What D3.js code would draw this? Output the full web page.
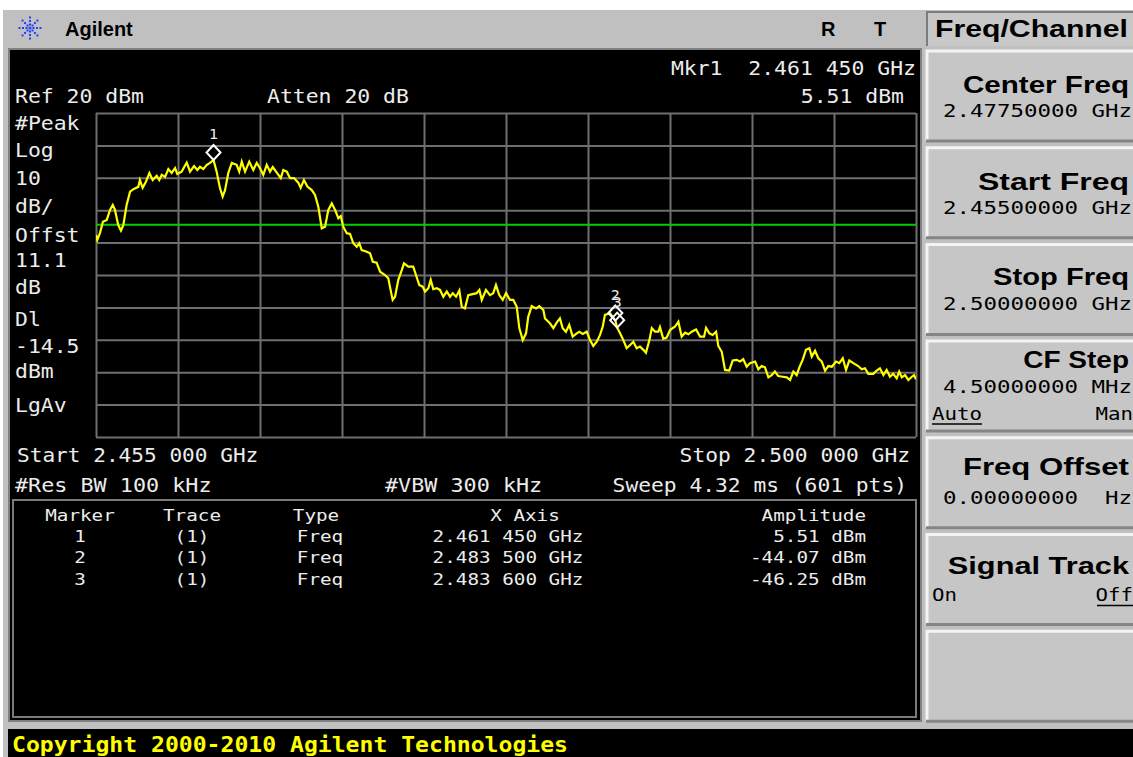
<!DOCTYPE html>
<html>
<head>
<meta charset="utf-8">
<script src="https://cdn.jsdelivr.net/npm/d3@7"></script>
<style>
  html, body { margin: 0; padding: 0; background: #ffffff; overflow: hidden; }
  svg { display: block; }
</style>
</head>
<body>
<svg id="screen" width="1133" height="757"></svg>
<script>
// ---- Trace 1 (peak detector), frequency in MHz and amplitude in dBm ----
const freqMHz = [2455.00,2455.07,2455.22,2455.38,2455.59,2455.77,2455.92,2456.04,2456.22,2456.37,2456.50,2456.68,2456.87,2457.05,2457.32,2457.41,2457.56,2457.74,2457.93,2458.11,2458.33,2458.47,2458.61,2458.79,2458.97,2459.15,2459.34,2459.46,2459.70,2459.98,2460.16,2460.38,2460.56,2460.71,2460.89,2461.08,2461.26,2461.45,2461.62,2461.80,2461.95,2462.08,2462.26,2462.45,2462.72,2462.86,2463.00,2463.18,2463.41,2463.63,2463.82,2464.00,2464.18,2464.37,2464.55,2464.70,2464.92,2465.14,2465.28,2465.47,2465.65,2465.87,2466.10,2466.23,2466.41,2466.60,2466.84,2467.02,2467.20,2467.39,2467.57,2467.75,2467.94,2468.12,2468.30,2468.43,2468.57,2468.76,2468.94,2469.12,2469.31,2469.45,2469.58,2469.86,2470.04,2470.19,2470.40,2470.59,2470.86,2471.04,2471.13,2471.28,2471.41,2471.59,2471.78,2471.90,2472.14,2472.41,2472.56,2472.74,2472.93,2473.06,2473.24,2473.37,2473.51,2473.70,2473.88,2474.06,2474.25,2474.43,2474.58,2474.76,2474.94,2475.07,2475.25,2475.43,2475.67,2475.89,2476.04,2476.17,2476.40,2476.62,2476.80,2476.95,2477.13,2477.32,2477.50,2477.72,2477.90,2478.09,2478.23,2478.42,2478.60,2478.72,2478.91,2479.15,2479.33,2479.55,2479.64,2479.91,2480.10,2480.28,2480.46,2480.61,2480.79,2480.97,2481.16,2481.38,2481.52,2481.71,2481.93,2482.11,2482.29,2482.48,2482.66,2482.81,2482.93,2483.21,2483.50,2483.60,2483.76,2483.94,2484.12,2484.31,2484.49,2484.67,2484.85,2485.04,2485.18,2485.37,2485.50,2485.68,2485.86,2485.95,2486.13,2486.32,2486.50,2486.78,2486.96,2487.14,2487.33,2487.51,2487.69,2487.93,2488.15,2488.37,2488.48,2488.66,2488.84,2489.03,2489.15,2489.34,2489.52,2489.75,2489.94,2490.16,2490.34,2490.52,2490.71,2490.89,2491.17,2491.35,2491.53,2491.71,2491.90,2492.08,2492.26,2492.44,2492.69,2492.91,2493.09,2493.27,2493.45,2493.60,2493.78,2493.96,2494.15,2494.28,2494.46,2494.64,2494.83,2495.01,2495.19,2495.38,2495.61,2495.79,2495.98,2496.16,2496.34,2496.56,2496.83,2497.02,2497.20,2497.38,2497.66,2497.84,2498.02,2498.21,2498.39,2498.57,2498.75,2498.94,2499.08,2499.22,2499.40,2499.58,2499.77,2499.89,2500.00];
const ampDbm = [-17.7,-19.2,-17.0,-13.6,-13.0,-9.9,-8.4,-9.9,-14.6,-16.3,-14.6,-8.4,-4.3,-3.5,-2.8,-0.7,-3.1,-1.2,1.5,-0.7,0.6,-0.7,0.9,0.3,2.7,1.5,3.0,1.2,1.9,4.7,1.9,3.6,2.4,3.4,2.7,4.0,4.6,5.51,1.9,-3.1,-5.8,-3.8,1.5,4.6,4.0,1.9,5.0,1.9,5.0,2.4,4.6,3.0,0.9,4.0,1.9,3.3,1.6,-0.1,2.4,1.9,-0.1,-0.1,-1.5,-3.1,-0.7,-2.7,-3.8,-5.3,-8.9,-15.6,-15.1,-9.9,-7.9,-9.9,-12.5,-11.8,-15.1,-17.1,-17.3,-20.2,-21.3,-20.2,-22.3,-22.8,-23.3,-25.9,-26.2,-29.0,-30.0,-31.0,-33.6,-37.7,-36.7,-31.5,-28.5,-26.4,-27.4,-27.4,-30.0,-33.1,-33.6,-35.1,-34.1,-31.5,-34.4,-34.1,-34.6,-36.7,-35.1,-36.7,-35.6,-36.7,-34.8,-39.8,-40.3,-36.2,-35.9,-35.6,-34.6,-37.7,-34.6,-36.2,-35.6,-33.1,-36.2,-37.7,-35.6,-37.7,-37.7,-39.8,-46.4,-50.1,-48.0,-42.9,-39.6,-40.3,-39.6,-40.8,-43.4,-44.9,-46.4,-44.7,-43.4,-46.4,-47.5,-45.4,-49.0,-48.0,-47.5,-48.2,-47.5,-50.1,-51.9,-50.6,-48.5,-45.9,-42.3,-41.8,-44.07,-46.25,-48.0,-50.1,-52.6,-51.6,-50.6,-52.6,-52.1,-53.1,-54.0,-50.1,-46.4,-47.5,-47.5,-46.1,-49.7,-49.3,-47.0,-45.9,-44.4,-49.0,-47.8,-48.3,-47.5,-46.8,-49.0,-49.0,-46.3,-48.0,-48.5,-47.5,-51.9,-53.7,-59.3,-59.5,-56.4,-56.2,-56.7,-56.0,-58.3,-57.2,-56.7,-59.1,-58.1,-58.5,-61.6,-60.9,-59.8,-61.2,-61.4,-61.6,-62.4,-59.8,-60.9,-58.5,-56.2,-53.1,-52.6,-55.2,-53.4,-55.7,-56.7,-59.5,-58.1,-58.3,-56.7,-57.2,-55.7,-59.3,-56.4,-57.2,-58.1,-59.1,-58.8,-60.5,-60.5,-59.5,-58.8,-60.9,-59.3,-61.4,-60.5,-61.9,-59.8,-61.6,-60.9,-62.4,-61.4,-60.9,-62.2];

// ---- Instrument settings ----
const startMHz = 2455, stopMHz = 2500;
const refLevelDbm = 20, dbPerDiv = 10, divisions = 10;
const displayLineDbm = -14.5;

// ---- Markers ----
const markerIds = [1, 2, 3];
const markerFreqMHz = [2461.45, 2483.50, 2483.60];
const markerAmpDbm = [5.51, -44.07, -46.25];
const markerXText = ["2.461 450 GHz", "2.483 500 GHz", "2.483 600 GHz"];
const markerAmpText = ["5.51 dBm", "-44.07 dBm", "-46.25 dBm"];

// ---- Annotation text ----
const leftLabels = ["#Peak", "Log", "10", "dB/", "Offst", "11.1", "dB", "Dl", "-14.5", "dBm", "LgAv"];
const tableHeader = ["Marker", "Trace", "Type", "X Axis", "Amplitude"];

// ---- Softkey menu ----
const menuTitle = "Freq/Channel";
const softkeyTitles = ["Center Freq", "Start Freq", "Stop Freq", "CF Step", "Freq Offset", "Signal Track", ""];
const softkeyValues = ["2.47750000 GHz", "2.45500000 GHz", "2.50000000 GHz", "4.50000000 MHz", "0.00000000  Hz", "", ""];

// ---------------------------------------------------------------------
const MONO = "'DejaVu Sans Mono', 'Liberation Mono', monospace";
const SANS = "'Liberation Sans', Arial, Helvetica, sans-serif";
const svg = d3.select("#screen");

// monospaced text, stretched to a fixed cell width
function mono(g, s, x, y, o = {}) {
  const cw = o.cw || 12.9, n = s.length;
  const x0 = o.anchor === "end" ? x - n * cw : o.anchor === "middle" ? x - n * cw / 2 : x;
  const t = g.append("text")
    .attr("x", x0).attr("y", y)
    .attr("font-family", o.family || MONO)
    .attr("font-size", o.size || 19)
    .attr("font-weight", o.weight || "normal")
    .attr("fill", o.fill || "#ececec")
    .attr("textLength", n * cw)
    .attr("lengthAdjust", "spacingAndGlyphs")
    .style("white-space", "pre")
    .text(s);
  return t;
}

// ---- frame ----
svg.append("rect").attr("x", 0).attr("y", 0).attr("width", 1133).attr("height", 757).attr("fill", "#ffffff");
svg.append("rect").attr("x", 3).attr("y", 10).attr("width", 1130).attr("height", 747).attr("fill", "#c0c0c0");
// screen
svg.append("rect").attr("x", 8).attr("y", 48).attr("width", 914).attr("height", 674).attr("fill", "#808080");
svg.append("rect").attr("x", 10).attr("y", 50).attr("width", 910).attr("height", 670).attr("fill", "#000000");
// status bar
svg.append("rect").attr("x", 8).attr("y", 729).attr("width", 1125).attr("height", 28).attr("fill", "#000000");
mono(svg, "Copyright 2000-2010 Agilent Technologies", 12, 752, { size: 21, weight: "bold", fill: "#ffff00", cw: 13.9 });

// ---- title bar ----
const logo = svg.append("g").attr("transform", "translate(30,28)");
d3.range(8).forEach(k => {
  const a = k * Math.PI / 4;
  [3.5, 7, 10.5].forEach(r => {
    logo.append("rect")
      .attr("x", Math.cos(a) * r - 1).attr("y", Math.sin(a) * r - 1)
      .attr("width", 2).attr("height", 2).attr("fill", "#2040ff");
  });
});
logo.append("circle").attr("r", 1.6).attr("fill", "#2040ff");
svg.append("text").attr("x", 65).attr("y", 36).attr("font-family", SANS).attr("font-weight", "bold")
  .attr("font-size", 20).attr("fill", "#000").text("Agilent");
svg.append("text").attr("x", 821).attr("y", 36).attr("font-family", SANS).attr("font-weight", "bold")
  .attr("font-size", 20).attr("fill", "#000").text("R");
svg.append("text").attr("x", 874).attr("y", 36).attr("font-family", SANS).attr("font-weight", "bold")
  .attr("font-size", 20).attr("fill", "#000").text("T");

// ---- plot area ----
const plotL = 96, plotR = 916, plotT = 113, plotB = 437;
const x = d3.scaleLinear().domain([startMHz, stopMHz]).range([plotL, plotR]);
const y = d3.scaleLinear().domain([refLevelDbm - dbPerDiv * divisions, refLevelDbm]).range([plotB, plotT]);

const gridColor = "#6f6f6f";
const xGrid = d3.axisBottom(x)
  .tickValues(d3.range(divisions + 1).map(i => startMHz + i * (stopMHz - startMHz) / divisions))
  .tickSize(-(plotB - plotT)).tickFormat("");
const yGrid = d3.axisLeft(y)
  .tickValues(d3.range(divisions + 1).map(i => refLevelDbm - i * dbPerDiv))
  .tickSize(-(plotR - plotL)).tickFormat("");
svg.append("g").attr("transform", `translate(0,${plotB})`).call(xGrid)
  .call(g => g.select(".domain").remove())
  .call(g => g.selectAll("line").attr("stroke", gridColor).attr("stroke-width", 2));
svg.append("g").attr("transform", `translate(${plotL},0)`).call(yGrid)
  .call(g => g.select(".domain").remove())
  .call(g => g.selectAll("line").attr("stroke", gridColor).attr("stroke-width", 2));

// display line
svg.append("line")
  .attr("x1", plotL).attr("x2", plotR)
  .attr("y1", y(displayLineDbm)).attr("y2", y(displayLineDbm))
  .attr("stroke", "#00d000").attr("stroke-width", 2);

// trace
svg.append("clipPath").attr("id", "plotClip").append("rect")
  .attr("x", plotL).attr("y", plotT).attr("width", plotR - plotL).attr("height", plotB - plotT);
const n = Math.min(freqMHz.length, ampDbm.length);
const trace = d3.range(n).map(i => ({ f: freqMHz[i], a: ampDbm[i] }));
const line = d3.line().x(d => x(d.f)).y(d => y(d.a)).curve(d3.curveLinear);
svg.append("path").datum(trace)
  .attr("clip-path", "url(#plotClip)")
  .attr("d", line)
  .attr("fill", "none").attr("stroke", "#ffff00").attr("stroke-width", 2.2)
  .attr("stroke-linejoin", "miter");

// markers: diamond sitting on the trace point, number above it
markerIds.forEach((id, i) => {
  const mx = x(markerFreqMHz[i]), my = y(markerAmpDbm[i]);
  svg.append("path")
    .attr("d", `M${mx},${my - 15}L${mx + 7},${my - 7.5}L${mx},${my}L${mx - 7},${my - 7.5}Z`)
    .attr("fill", "none").attr("stroke", "#ffffff").attr("stroke-width", 2);
  mono(svg, String(id), mx, my - 21, { anchor: "middle", size: 14, cw: 9 });
});

// ---- annotations ----
mono(svg, "Mkr1  2.461 450 GHz", 916, 75, { anchor: "end" });
mono(svg, "5.51 dBm", 904, 103, { anchor: "end" });
mono(svg, "Ref 20 dBm", 15, 103);
mono(svg, "Atten 20 dB", 267, 103);
const leftLabelY = [130, 157, 185, 213, 242, 267, 294, 326, 353, 378, 412];
leftLabels.forEach((s, i) => mono(svg, s, 15, leftLabelY[i]));
mono(svg, "Start 2.455 000 GHz", 17, 462, { cw: 12.7 });
mono(svg, "Stop 2.500 000 GHz", 910, 462, { anchor: "end", cw: 12.8 });
mono(svg, "#Res BW 100 kHz", 15, 492, { cw: 13.1 });
mono(svg, "#VBW 300 kHz", 385, 492, { cw: 13.1 });
mono(svg, "Sweep 4.32 ms (601 pts)", 907, 492, { anchor: "end", cw: 12.8 });

// ---- marker table ----
svg.append("rect").attr("x", 13).attr("y", 500).attr("width", 903).attr("height", 217)
  .attr("fill", "none").attr("stroke", "#7a7a7a").attr("stroke-width", 2);
const tcw = 11.6, tsize = 16;
const colCenter = [80, 192, 316, 525];
tableHeader.slice(0, 4).forEach((h, i) => mono(svg, h, colCenter[i], 521, { anchor: "middle", size: tsize, cw: tcw }));
mono(svg, tableHeader[4], 866, 521, { anchor: "end", size: tsize, cw: tcw });
const rowY = [542, 563, 585];
markerIds.forEach((id, i) => {
  mono(svg, String(id), 80, rowY[i], { anchor: "middle", size: tsize, cw: tcw });
  mono(svg, "(1)", 192, rowY[i], { anchor: "middle", size: tsize, cw: tcw });
  mono(svg, "Freq", 320, rowY[i], { anchor: "middle", size: tsize, cw: tcw });
  mono(svg, markerXText[i], 508, rowY[i], { anchor: "middle", size: tsize, cw: tcw });
  mono(svg, markerAmpText[i], 866, rowY[i], { anchor: "end", size: tsize, cw: tcw });
});

// ---- softkey menu ----
const skL = 926, skR = 1133;
// menu title box
svg.append("rect").attr("x", skL).attr("y", 11).attr("width", skR - skL).attr("height", 35).attr("fill", "#c8c8c8");
svg.append("path").attr("d", `M${skL + 1},46V12H${skR}`).attr("fill", "none").attr("stroke", "#7c7c7c").attr("stroke-width", 2);
svg.append("text").attr("x", 1128).attr("y", 37).attr("text-anchor", "end")
  .attr("font-family", SANS).attr("font-weight", "bold").attr("font-size", 23).attr("fill", "#000")
  .attr("textLength", 193).attr("lengthAdjust", "spacingAndGlyphs").text(menuTitle);

// title / value baselines inside each key (CF Step carries a third line)
const skTitleDy = [43, 43, 42, 28, 38, 40, 0];
const skValueDy = [67, 67, 67, 53, 67, 0, 0];
const skTop = d3.range(softkeyTitles.length).map(i => 50 + i * 96.7);
softkeyTitles.forEach((title, i) => {
  const t = skTop[i], h = 91;
  const g = svg.append("g");
  g.append("rect").attr("x", skL).attr("y", t).attr("width", skR - skL).attr("height", h).attr("fill", "#c6c6c6");
  g.append("path").attr("d", `M${skL + 1},${t + h}V${t + 1}H${skR}`).attr("fill", "none").attr("stroke", "#f4f4f4").attr("stroke-width", 3);
  g.append("line").attr("x1", skL).attr("x2", skR).attr("y1", t + h).attr("y2", t + h).attr("stroke", "#858585").attr("stroke-width", 3);
  if (title) {
    const tw = title.length * 15.1;
    g.append("text").attr("x", 1129).attr("y", t + skTitleDy[i]).attr("text-anchor", "end")
      .attr("font-family", SANS).attr("font-weight", "bold").attr("font-size", 24).attr("fill", "#000")
      .attr("textLength", tw).attr("lengthAdjust", "spacingAndGlyphs").text(title);
  }
  if (softkeyValues[i]) mono(g, softkeyValues[i], 1132, t + skValueDy[i], { anchor: "end", size: 18, cw: 13.5, fill: "#000" });
});
// CF Step: Auto / Man
mono(svg, "Auto", 932, skTop[3] + 80, { size: 18, cw: 12.5, fill: "#000" });
svg.append("line").attr("x1", 932).attr("x2", 982).attr("y1", skTop[3] + 84).attr("y2", skTop[3] + 84).attr("stroke", "#000").attr("stroke-width", 1.5);
mono(svg, "Man", 1133, skTop[3] + 80, { anchor: "end", size: 18, cw: 12.5, fill: "#000" });
// Signal Track: On / Off
mono(svg, "On", 932, skTop[5] + 67, { size: 18, cw: 12.5, fill: "#000" });
mono(svg, "Off", 1133, skTop[5] + 67, { anchor: "end", size: 18, cw: 12.5, fill: "#000" });
svg.append("line").attr("x1", 1097).attr("x2", 1133).attr("y1", skTop[5] + 72).attr("y2", skTop[5] + 72).attr("stroke", "#000").attr("stroke-width", 1.5);
</script>
</body>
</html>
